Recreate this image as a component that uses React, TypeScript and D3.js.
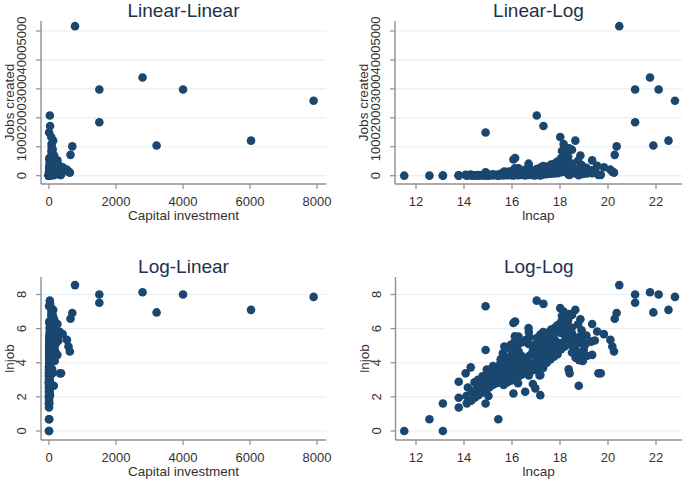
import React from 'react';
import * as d3 from 'd3';

const W = 685;
const H = 480;

// Each observation: [lncap, lnjob]  (capital in millions = exp(lncap)/1e6, jobs = exp(lnjob))
const observations: [number, number][] = [
  [11.51, 0], [12.56, 0.69], [13.12, 0], [13.12, 1.61], [13.78, 1.38], [13.78, 1.95], [13.78, 2.89],
  [14.07, 3.38], [14.28, 3.73], [14.9, 7.31], [14.9, 4.75], [14.9, 1.61], [15.43, 0.69],
  [17.03, 7.64], [17.31, 7.45], [20.47, 8.55], [21.13, 8.0], [21.13, 7.52], [21.75, 8.13],
  [21.89, 6.95], [22.11, 8.0], [22.52, 7.1], [22.79, 7.86], [20.36, 6.92], [20.28, 6.58],
  [20.18, 4.95], [20.25, 4.66], [20.1, 5.34], [19.83, 5.68], [19.55, 5.83], [19.34, 6.27],
  [19.6, 3.38], [19.7, 3.38], [19.34, 4.46], [19.3, 5.24], [18.78, 2.65], [18.99, 4.75],
  [18.5, 6.8], [18.64, 7.1], [18.36, 3.61], [18.4, 3.38], [18.01, 7.2], [18.15, 7.0],
  [17.18, 3.28], [17.18, 2.1], [16.97, 2.5], [16.87, 2.75], [16.55, 2.3], [16.06, 2.2],
  [16.06, 6.33], [16.13, 6.42], [16.69, 6.03], [16.27, 5.54],
  [18.85, 6.55], [18.75, 6.25], [19.45, 5.3], [19.05, 5.05], [18.9, 5.9],
  [14.12, 1.62], [14.1, 2.05], [14.16, 2.55],
  [14.3, 1.78], [14.33, 2.3],
  [14.45, 1.95], [14.47, 2.4], [14.44, 2.85],
  [14.6, 2.1], [14.62, 2.55], [14.58, 3.0],
  [14.75, 2.25], [14.73, 2.7], [14.77, 3.2],
  [14.92, 2.35], [14.88, 2.8], [14.91, 3.25], [14.95, 3.6],
  [15.05, 2.55], [15.07, 2.95], [15.03, 3.35], [15.02, 2.05],
  [15.2, 2.7], [15.22, 3.05], [15.18, 3.45], [15.21, 3.8],
  [15.35, 2.8], [15.33, 3.2], [15.37, 3.55],
  [15.5, 2.85], [15.52, 3.25], [15.48, 3.6], [15.51, 3.95], [15.53, 4.2],
  [15.65, 2.7], [15.63, 3.05], [15.67, 3.4], [15.64, 3.75], [15.66, 4.1], [15.62, 4.55], [15.68, 4.95],
  [15.8, 2.85], [15.82, 3.2], [15.78, 3.6], [15.81, 3.95], [15.79, 4.3], [15.83, 4.9],
  [15.95, 2.95], [15.97, 3.3], [15.93, 3.65], [15.96, 4.0], [15.94, 4.35], [15.98, 4.7], [15.95, 5.05],
  [16.1, 3.1], [16.12, 3.45], [16.08, 3.8], [16.11, 4.15], [16.09, 4.5], [16.13, 4.85], [16.1, 5.2], [16.12, 5.55],
  [16.25, 2.8], [16.27, 3.2], [16.23, 3.6], [16.26, 3.95], [16.24, 4.3], [16.28, 4.65], [16.25, 5.05],
  [16.4, 3.3], [16.42, 3.7], [16.38, 4.05], [16.41, 4.4], [16.43, 5.2],
  [16.55, 3.5], [16.57, 3.9], [16.53, 4.25], [16.58, 5.35],
  [16.7, 3.25], [16.72, 3.7], [16.68, 4.0], [16.71, 4.4], [16.69, 5.1], [16.73, 5.5], [16.7, 5.8],
  [16.85, 3.55], [16.87, 3.95], [16.86, 4.65], [16.84, 5.0],
  [17.0, 3.6], [17.02, 4.0], [16.98, 4.35], [17.01, 4.75], [16.99, 5.1], [17.03, 5.45],
  [17.15, 3.8], [17.17, 4.2], [17.13, 4.6], [17.16, 4.95], [17.14, 5.3], [17.18, 5.65], [17.15, 3.25],
  [17.3, 3.7], [17.32, 4.1], [17.28, 4.45], [17.31, 4.8], [17.29, 5.15], [17.33, 5.5], [17.3, 5.8],
  [17.45, 4.0], [17.47, 4.35], [17.43, 4.7], [17.46, 5.05], [17.44, 5.4], [17.48, 5.75],
  [17.6, 4.2], [17.62, 4.55], [17.58, 4.9], [17.61, 5.25], [17.59, 5.6], [17.63, 5.95],
  [17.75, 4.35], [17.77, 4.7], [17.73, 5.05], [17.76, 5.4], [17.74, 5.75], [17.78, 6.05],
  [17.9, 4.5], [17.92, 4.85], [17.88, 5.2], [17.91, 5.9], [17.89, 6.2],
  [18.05, 4.8], [18.07, 5.15], [18.03, 5.75], [18.06, 6.1], [18.04, 6.4], [18.08, 6.75],
  [18.2, 4.95], [18.22, 5.3], [18.18, 5.65], [18.21, 6.0], [18.19, 6.3], [18.23, 6.6], [18.2, 6.9],
  [18.35, 5.1], [18.37, 5.45], [18.33, 5.8], [18.36, 6.15], [18.34, 6.5], [18.38, 6.85],
  [18.5, 4.6], [18.52, 5.0], [18.48, 5.35], [18.51, 5.7], [18.49, 6.05],
  [18.65, 4.3], [18.67, 4.7], [18.63, 5.05], [18.66, 5.4],
  [18.8, 4.15], [18.82, 4.5], [18.78, 5.15], [18.81, 5.5],
  [18.95, 4.1], [18.97, 5.2],
  [19.1, 5.6], [19.12, 4.4],
];

const capitalTicks = [0, 2000, 4000, 6000, 8000];
const lncapTicks = [12, 14, 16, 18, 20, 22];
const jobsTicks = [0, 1000, 2000, 3000, 4000, 5000];
const lnjobTicks = [0, 2, 4, 6, 8];
const panelTitles = ['Linear-Linear', 'Linear-Log', 'Log-Linear', 'Log-Log'];
const xTitles = ['Capital investment', 'lncap', 'Capital investment', 'lncap'];
const yTitles = ['Jobs created', 'Jobs created', 'lnjob', 'lnjob'];

const FONT = '"Liberation Sans", Arial, Helvetica, sans-serif';
const MARKER = '#1a476f';
const AXIS = '#8f8f8f';
const GRID = '#e7eff1';
const TEXT = '#353131';
const TITLE = '#22314c';

type Panel = {
  title: string;
  xTitle: string;
  yTitle: string;
  axisX: number;
  axisY: number;
  top: number;
  right: number;
  x: d3.ScaleLinear<number, number>;
  y: d3.ScaleLinear<number, number>;
  xTicks: number[];
  yTicks: number[];
  xv: (d: [number, number]) => number;
  yv: (d: [number, number]) => number;
};

const capital = (d: [number, number]) => Math.exp(d[0]) / 1e6;
const jobs = (d: [number, number]) => Math.exp(d[1]);
const lncapV = (d: [number, number]) => d[0];
const lnjobV = (d: [number, number]) => d[1];

const panels: Panel[] = [
  {
    title: panelTitles[0], xTitle: xTitles[0], yTitle: yTitles[0],
    axisX: 41, axisY: 184, top: 21, right: 326,
    x: d3.scaleLinear().domain([0, 8000]).range([49, 317]),
    y: d3.scaleLinear().domain([0, 5000]).range([175.7, 31]),
    xTicks: capitalTicks, yTicks: jobsTicks, xv: capital, yv: jobs,
  },
  {
    title: panelTitles[1], xTitle: xTitles[1], yTitle: yTitles[1],
    axisX: 395, axisY: 184, top: 21, right: 682,
    x: d3.scaleLinear().domain([12, 22]).range([416, 656]),
    y: d3.scaleLinear().domain([0, 5000]).range([175.7, 31]),
    xTicks: lncapTicks, yTicks: jobsTicks, xv: lncapV, yv: jobs,
  },
  {
    title: panelTitles[2], xTitle: xTitles[2], yTitle: yTitles[2],
    axisX: 41, axisY: 440, top: 277, right: 326,
    x: d3.scaleLinear().domain([0, 8000]).range([49, 317]),
    y: d3.scaleLinear().domain([0, 8]).range([431, 294.5]),
    xTicks: capitalTicks, yTicks: lnjobTicks, xv: capital, yv: lnjobV,
  },
  {
    title: panelTitles[3], xTitle: xTitles[3], yTitle: yTitles[3],
    axisX: 395.5, axisY: 440, top: 277, right: 682,
    x: d3.scaleLinear().domain([12, 22]).range([416, 656]),
    y: d3.scaleLinear().domain([0, 8]).range([431, 294.5]),
    xTicks: lncapTicks, yTicks: lnjobTicks, xv: lncapV, yv: lnjobV,
  },
];

function PanelView({ p }: { p: Panel }) {
  const cx = (p.axisX + p.right) / 2;
  const cy = (p.top + p.axisY) / 2;
  return (
    <g>
      {p.yTicks.map((t) => (
        <line key={'g' + t} x1={p.axisX} x2={p.right} y1={p.y(t)} y2={p.y(t)} stroke={GRID} strokeWidth={1.2} />
      ))}
      {observations.map((d, i) => (
        <circle key={i} cx={p.x(p.xv(d))} cy={p.y(p.yv(d))} r={4.3} fill={MARKER} />
      ))}
      <line x1={p.axisX} x2={p.axisX} y1={p.top} y2={p.axisY} stroke={AXIS} strokeWidth={1.4} />
      <line x1={p.axisX} x2={p.right} y1={p.axisY} y2={p.axisY} stroke={AXIS} strokeWidth={1.4} />
      {p.yTicks.map((t) => (
        <g key={'y' + t}>
          <line x1={p.axisX - 5} x2={p.axisX} y1={p.y(t)} y2={p.y(t)} stroke={AXIS} strokeWidth={1.2} />
          <text
            transform={`translate(${p.axisX - 19.5},${p.y(t)}) rotate(-90)`}
            textAnchor="middle"
            dominantBaseline="central"
            fontSize={13}
            fill={TEXT}
          >
            {t}
          </text>
        </g>
      ))}
      {p.xTicks.map((t) => (
        <g key={'x' + t}>
          <line x1={p.x(t)} x2={p.x(t)} y1={p.axisY} y2={p.axisY + 5} stroke={AXIS} strokeWidth={1.2} />
          <text x={p.x(t)} y={p.axisY + 17.5} textAnchor="middle" dominantBaseline="central" fontSize={13} fill={TEXT}>
            {t}
          </text>
        </g>
      ))}
      <text x={cx} y={p.axisY + 31} textAnchor="middle" dominantBaseline="central" fontSize={13.5} fill={TEXT}>
        {p.xTitle}
      </text>
      <text
        transform={`translate(${p.axisX - 31.5},${cy}) rotate(-90)`}
        textAnchor="middle"
        dominantBaseline="central"
        fontSize={13.5}
        fill={TEXT}
      >
        {p.yTitle}
      </text>
      <text x={cx} y={p.top - 4.5} textAnchor="middle" fontSize={19} fill={TITLE}>
        {p.title}
      </text>
    </g>
  );
}

export default function App() {
  return (
    <svg
      width={W}
      height={H}
      viewBox={`0 0 ${W} ${H}`}
      style={{ position: 'absolute', left: 0, top: 0, fontFamily: FONT, background: '#fff' }}
    >
      <rect x={0} y={0} width={W} height={H} fill="#fff" />
      {panels.map((p, i) => (
        <PanelView key={i} p={p} />
      ))}
    </svg>
  );
}
